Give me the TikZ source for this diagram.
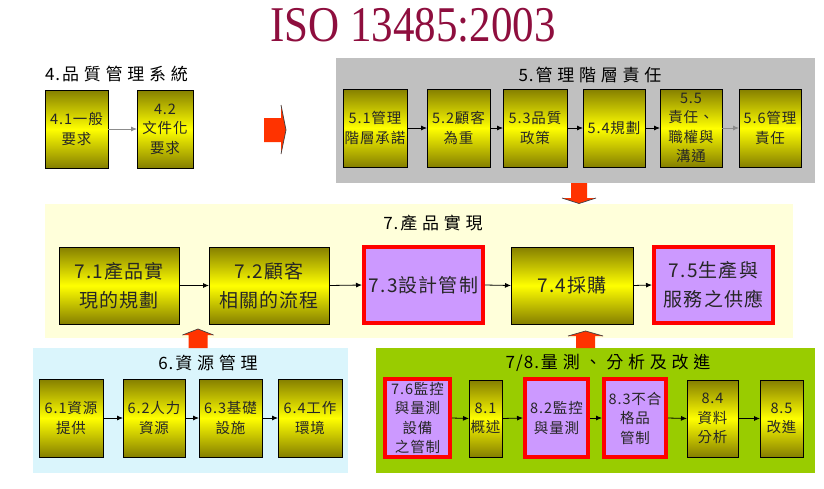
\documentclass[tikz,border=0pt]{standalone}
\usepackage{fontspec}
\usetikzlibrary{arrows.meta}
\newfontfamily\cjkbox[LetterSpace=6]{Noto Sans CJK TC}
\newfontfamily\cjktitle[LetterSpace=28]{Noto Sans CJK TC}
\newfontfamily\titlefont{Liberation Serif}
\definecolor{titlered}{HTML}{8E0E3E}
\definecolor{graybg}{HTML}{C0C0C0}
\definecolor{yellowbg}{HTML}{FFFFDA}
\definecolor{cyanbg}{HTML}{DAF5FC}
\definecolor{greenbg}{HTML}{99CC00}
\definecolor{olivedark}{HTML}{857F00}
\definecolor{brightyellow}{HTML}{FFFF00}
\definecolor{lilac}{HTML}{CC99FF}
\definecolor{boxred}{HTML}{FF0000}
\definecolor{arrowred}{HTML}{FF3300}
\newcommand\bx[7]{%
  \node[#1, minimum width={#4pt-#3pt}, minimum height={#6pt-#5pt}] (#2) at ({(#3+#4)/2},{(#5+#6)/2}) {#7};}
\newcommand\num[1]{{\cjkbox #1\hspace{2pt}}}
\begin{document}
\begin{tikzpicture}[x=1pt,y=-1pt,
  every node/.style={inner sep=0pt, outer sep=0pt, align=center},
  groupbg/.style={rectangle, draw=none},
  ybox/.style={rectangle, draw=black, line width=0.7pt, top color=olivedark, bottom color=olivedark, middle color=brightyellow, text=black!85, font=\cjkbox\fontsize{14.5}{19.5}\selectfont},
  pbox/.style={rectangle, draw=boxred, line width=4pt, fill=lilac, outer sep=2pt, text=black!85, font=\cjkbox\fontsize{14.5}{19.5}\selectfont},
  big/.style={font=\cjkbox\fontsize{19}{29}\selectfont},
  grouptitle/.style={font=\cjktitle\fontsize{17}{20}\selectfont, text=black},
  link/.style={-{Latex[length=6pt,width=5pt]}, line width=0.8pt, black},
  graylink/.style={link, draw=black!45},
  blockarrow/.style={fill=arrowred, draw=none},
  headedge/.style={draw=black!75, line width=0.7pt}
]
\useasboundingbox (0,0) rectangle (824,488);
\fill[white] (0,0) rectangle (824,488);

% title
\node[text=titlered, font=\titlefont\fontsize{50}{50}\selectfont] (title) at (413,25) {\scalebox{0.86}[1]{ISO 13485:2003}};

% group backgrounds
\bx{groupbg, fill=graybg}{g5}{336}{815}{58}{183}{}
\bx{groupbg, fill=yellowbg}{g7}{45}{793}{204}{338}{}
\bx{groupbg, fill=cyanbg}{g6}{33}{348}{348}{473}{}
\bx{groupbg, fill=greenbg}{g78}{376}{815}{348}{473}{}

% block arrows
\fill[blockarrow] (264,118) -- (281,118) -- (281,105) -- (286,130) -- (281,154) -- (281,142) -- (264,142) -- cycle;
\draw[headedge] (281,105) -- (286,130) -- (281,154);
\fill[blockarrow] (571,183) -- (587,183) -- (587,198) -- (596,198) -- (579,203.5) -- (562,198) -- (571,198) -- cycle;
\draw[headedge] (562,198) -- (579,203.5) -- (596,198);
\fill[blockarrow] (188.5,348) -- (207.5,348) -- (207.5,335) -- (213.5,335) -- (198,329) -- (182.5,335) -- (188.5,335) -- cycle;
\draw[headedge] (182.5,335) -- (198,329) -- (213.5,335);
\fill[blockarrow] (576,348) -- (595,348) -- (595,336) -- (603,336) -- (585.5,331) -- (568,336) -- (576,336) -- cycle;
\draw[headedge] (568,336) -- (585.5,331) -- (603,336);

% group titles
\node[grouptitle, anchor=west] (t4) at (45,74) {\num{4.}品質管理系統};
\node[grouptitle] (t5) at (590,75) {\num{5.}管理階層責任};
\node[grouptitle] (t7) at (433,223) {\num{7.}產品實現};
\node[grouptitle] (t6) at (208,363) {\num{6.}資源管理};
\node[grouptitle] (t78) at (608,363) {\num{7/8.}量測、分析及改進};

% group 4
\bx{ybox}{b41}{45}{108}{90}{168}{4.1一般\\要求}
\bx{ybox}{b42}{137}{193}{90}{168}{4.2\\文件化\\要求}

% group 5
\bx{ybox}{b51}{343}{407}{89}{167}{5.1管理\\階層承諾}
\bx{ybox}{b52}{427}{490}{89}{167}{5.2顧客\\為重}
\bx{ybox}{b53}{503}{567}{89}{167}{5.3品質\\政策}
\bx{ybox}{b54}{583}{645}{89}{167}{5.4規劃}
\bx{ybox}{b55}{660}{722}{89}{167}{5.5\\責任、\\職權與\\溝通}
\bx{ybox}{b56}{739}{801}{89}{167}{5.6管理\\責任}

% group 7
\bx{ybox, big}{b71}{59}{179}{247}{324}{7.1產品實\\現的規劃}
\bx{ybox, big}{b72}{209}{329}{247}{324}{7.2顧客\\相關的流程}
\bx{pbox, big}{b73}{364}{483}{247}{323}{7.3設計管制}
\bx{ybox, big}{b74}{511}{633}{247}{324}{7.4採購}
\bx{pbox, big}{b75}{654}{773}{247}{323}{7.5生產與\\服務之供應}

% group 6
\bx{ybox}{b61}{39}{103}{379}{457}{6.1資源\\提供}
\bx{ybox}{b62}{123}{185}{379}{457}{6.2人力\\資源}
\bx{ybox}{b63}{199}{262}{379}{457}{6.3基礎\\設施}
\bx{ybox}{b64}{278}{342}{379}{457}{6.4工作\\環境}

% group 7/8
\bx{pbox}{b76}{385}{450}{379}{457}{7.6監控\\與量測\\設備\\之管制}
\bx{ybox}{b81}{469}{502}{380}{457}{8.1\\概述}
\bx{pbox}{b82}{525}{588}{379}{457}{8.2監控\\與量測}
\bx{pbox}{b83}{604}{666}{379}{457}{8.3不合\\格品\\管制}
\bx{ybox}{b84}{687}{738}{380}{457}{8.4\\資料\\分析}
\bx{ybox}{b85}{760}{803}{380}{457}{8.5\\改進}

% connectors
\draw[graylink] (b41.east) -- (b42.west);
\draw[link] (b51.east) -- (b52.west);
\draw[link] (b52.east) -- (b53.west);
\draw[link] (b53.east) -- (b54.west);
\draw[link] (b54.east) -- (b55.west);
\draw[graylink] (b55.east) -- (b56.west);
\draw[link] (b71.east) -- (b72.west);
\draw[link] (b72.east) -- (b73.west);
\draw[link] (b73.east) -- (b74.west);
\draw[link] (b74.east) -- (b75.west);
\draw[link] (b61.east) -- (b62.west);
\draw[link] (b62.east) -- (b63.west);
\draw[link] (b63.east) -- (b64.west);
\draw[link] (b76.east) -- (b81.west);
\draw[link] (b81.east) -- (b82.west);
\draw[link] (b82.east) -- (b83.west);
\draw[link] (b83.east) -- (b84.west);
\draw[link] (b84.east) -- (b85.west);
\end{tikzpicture}
\end{document}
